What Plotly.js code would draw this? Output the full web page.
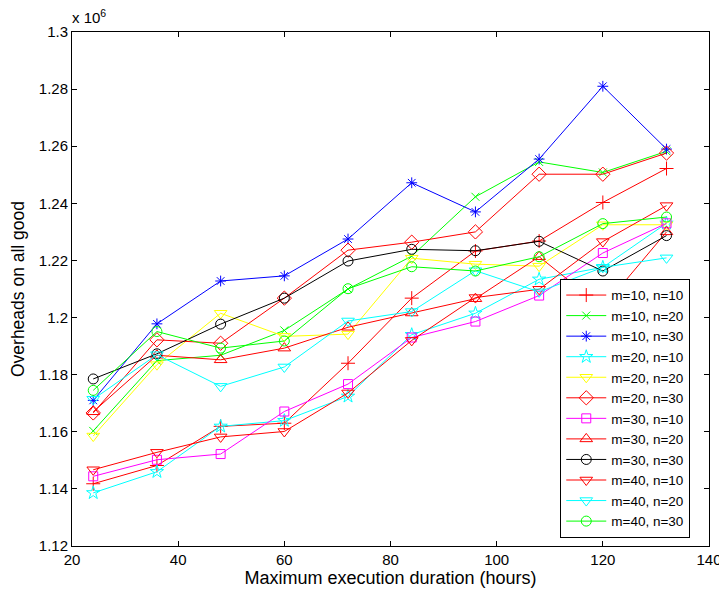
<!DOCTYPE html>
<html>
<head>
<meta charset="utf-8">
<script src="https://cdn.plot.ly/plotly-3.0.1.min.js"></script>
<style>html,body{margin:0;padding:0;background:#fff;}#chart{width:719px;height:589px;}</style>
</head>
<body>
<div id="chart"></div>
<script>
// x: maximum execution duration (hours); y: overheads (x 10^6)
const hours = [24, 36, 48, 60, 72, 84, 96, 108, 120, 132];

const seriesNames = ["m=10, n=10","m=10, n=20","m=10, n=30","m=20, n=10","m=20, n=20","m=20, n=30",
                     "m=30, n=10","m=30, n=20","m=30, n=30","m=40, n=10","m=40, n=20","m=40, n=30"];

const m10n10 = [1.1418, 1.1482, 1.1619, 1.1630, 1.1840, 1.2068, 1.2233, 1.2268, 1.2403, 1.2522];
const m10n20 = [1.1603, 1.1849, 1.1868, 1.1955, 1.2100, 1.2215, 1.2423, 1.2545, 1.2508, 1.2582];
const m10n30 = [1.1710, 1.1978, 1.2128, 1.2146, 1.2275, 1.2472, 1.2370, 1.2555, 1.2810, 1.2590];
const m20n10 = [1.1386, 1.1460, 1.1619, 1.1639, 1.1724, 1.1940, 1.2015, 1.2134, 1.2176, 1.2330];
const m20n20 = [1.1585, 1.1835, 1.2015, 1.1934, 1.1942, 1.2208, 1.2187, 1.2180, 1.2325, 1.2325];
const m20n30 = [1.1666, 1.1922, 1.1910, 1.2068, 1.2236, 1.2264, 1.2300, 1.2502, 1.2502, 1.2576];
const m30n10 = [1.1444, 1.1502, 1.1522, 1.1671, 1.1767, 1.1930, 1.1986, 1.2077, 1.2226, 1.2330];
const m30n20 = [1.1670, 1.1868, 1.1852, 1.1893, 1.1966, 1.2016, 1.2066, 1.2213, 1.2035, 1.2300];
const m30n30 = [1.1785, 1.1873, 1.1977, 1.2068, 1.2198, 1.2239, 1.2234, 1.2267, 1.2163, 1.2287];
const m40n10 = [1.1467, 1.1528, 1.1582, 1.1601, 1.1736, 1.1920, 1.2070, 1.2099, 1.2266, 1.2392];
const m40n20 = [1.1714, 1.1870, 1.1759, 1.1827, 1.1988, 1.2021, 1.2164, 1.2090, 1.2176, 1.2209];
const m40n30 = [1.1745, 1.1951, 1.1893, 1.1918, 1.2101, 1.2178, 1.2163, 1.2213, 1.2329, 1.2352];

const allSeries = [m10n10, m10n20, m10n30, m20n10, m20n20, m20n30, m30n10, m30n20, m30n30, m40n10, m40n20, m40n30];
const colors = ["#ff0000","#00ff00","#0000ff","#00ffff","#ffff00","#ff0000","#ff00ff","#ff0000","#000000","#ff0000","#00ffff","#00ff00"];
const symbols = ["cross-thin-open","x-thin-open","asterisk-open","star-open","triangle-down-open","diamond-open",
                 "square-open","triangle-up-open","circle-open","triangle-down-open","triangle-down-open","circle-open"];
const sizes = [10, 8, 9, 10, 11, 11, 9, 11, 10, 11, 11, 10];

const yTicks = [1.12, 1.14, 1.16, 1.18, 1.2, 1.22, 1.24, 1.26, 1.28, 1.3];
const yTickText = ["1.12","1.14","1.16","1.18","1.2","1.22","1.24","1.26","1.28","1.3"];
const xTicks = [20, 40, 60, 80, 100, 120, 140];

const traces = allSeries.map((ys, i) => ({
  x: hours, y: ys, name: seriesNames[i], type: "scatter", mode: "lines+markers",
  line: {color: colors[i], width: 1},
  marker: {symbol: symbols[i], size: sizes[i], color: colors[i], line: {color: colors[i], width: 1}}
}));

const font = {family: "Liberation Sans, Arial, Helvetica, sans-serif", color: "#000"};

const layout = {
  width: 719, height: 589,
  margin: {l: 72, r: 10, t: 32, b: 43},
  paper_bgcolor: "#fff", plot_bgcolor: "#fff",
  font: Object.assign({size: 15}, font),
  showlegend: true,
  xaxis: {
    range: [20, 140], tickvals: xTicks, ticktext: xTicks.map(String),
    ticks: "inside", ticklen: 5, tickcolor: "#000", mirror: "ticks",
    showline: true, linecolor: "#000", linewidth: 1, showgrid: false, zeroline: false,
    ticklabeloverflow: "allow",
    tickfont: {size: 15}, title: {text: "Maximum execution duration (hours)", font: {size: 18}, standoff: 3}
  },
  yaxis: {
    range: [1.12, 1.3], tickvals: yTicks, ticktext: yTickText,
    ticks: "inside", ticklen: 5, tickcolor: "#000", mirror: "ticks",
    showline: true, linecolor: "#000", linewidth: 1, showgrid: false, zeroline: false,
    ticklabeloverflow: "allow",
    tickfont: {size: 15}, title: {text: "Overheads on all good", font: {size: 17.5}, standoff: 9}
  },
  legend: {
    x: 0.7665, y: 0.016, xanchor: "left", yanchor: "bottom",
    bgcolor: "#fff", bordercolor: "#000", borderwidth: 1,
    font: {size: 13.5}, tracegroupgap: 0, itemwidth: 40
  },
  annotations: [{
    xref: "paper", yref: "paper", x: 0, y: 1, xanchor: "left", yanchor: "bottom",
    xshift: -2, yshift: 4, showarrow: false, text: "x 10<sup>6</sup>", font: {size: 15}
  }]
};

Plotly.newPlot("chart", traces, layout, {displayModeBar: false, staticPlot: true});
</script>
</body>
</html>
